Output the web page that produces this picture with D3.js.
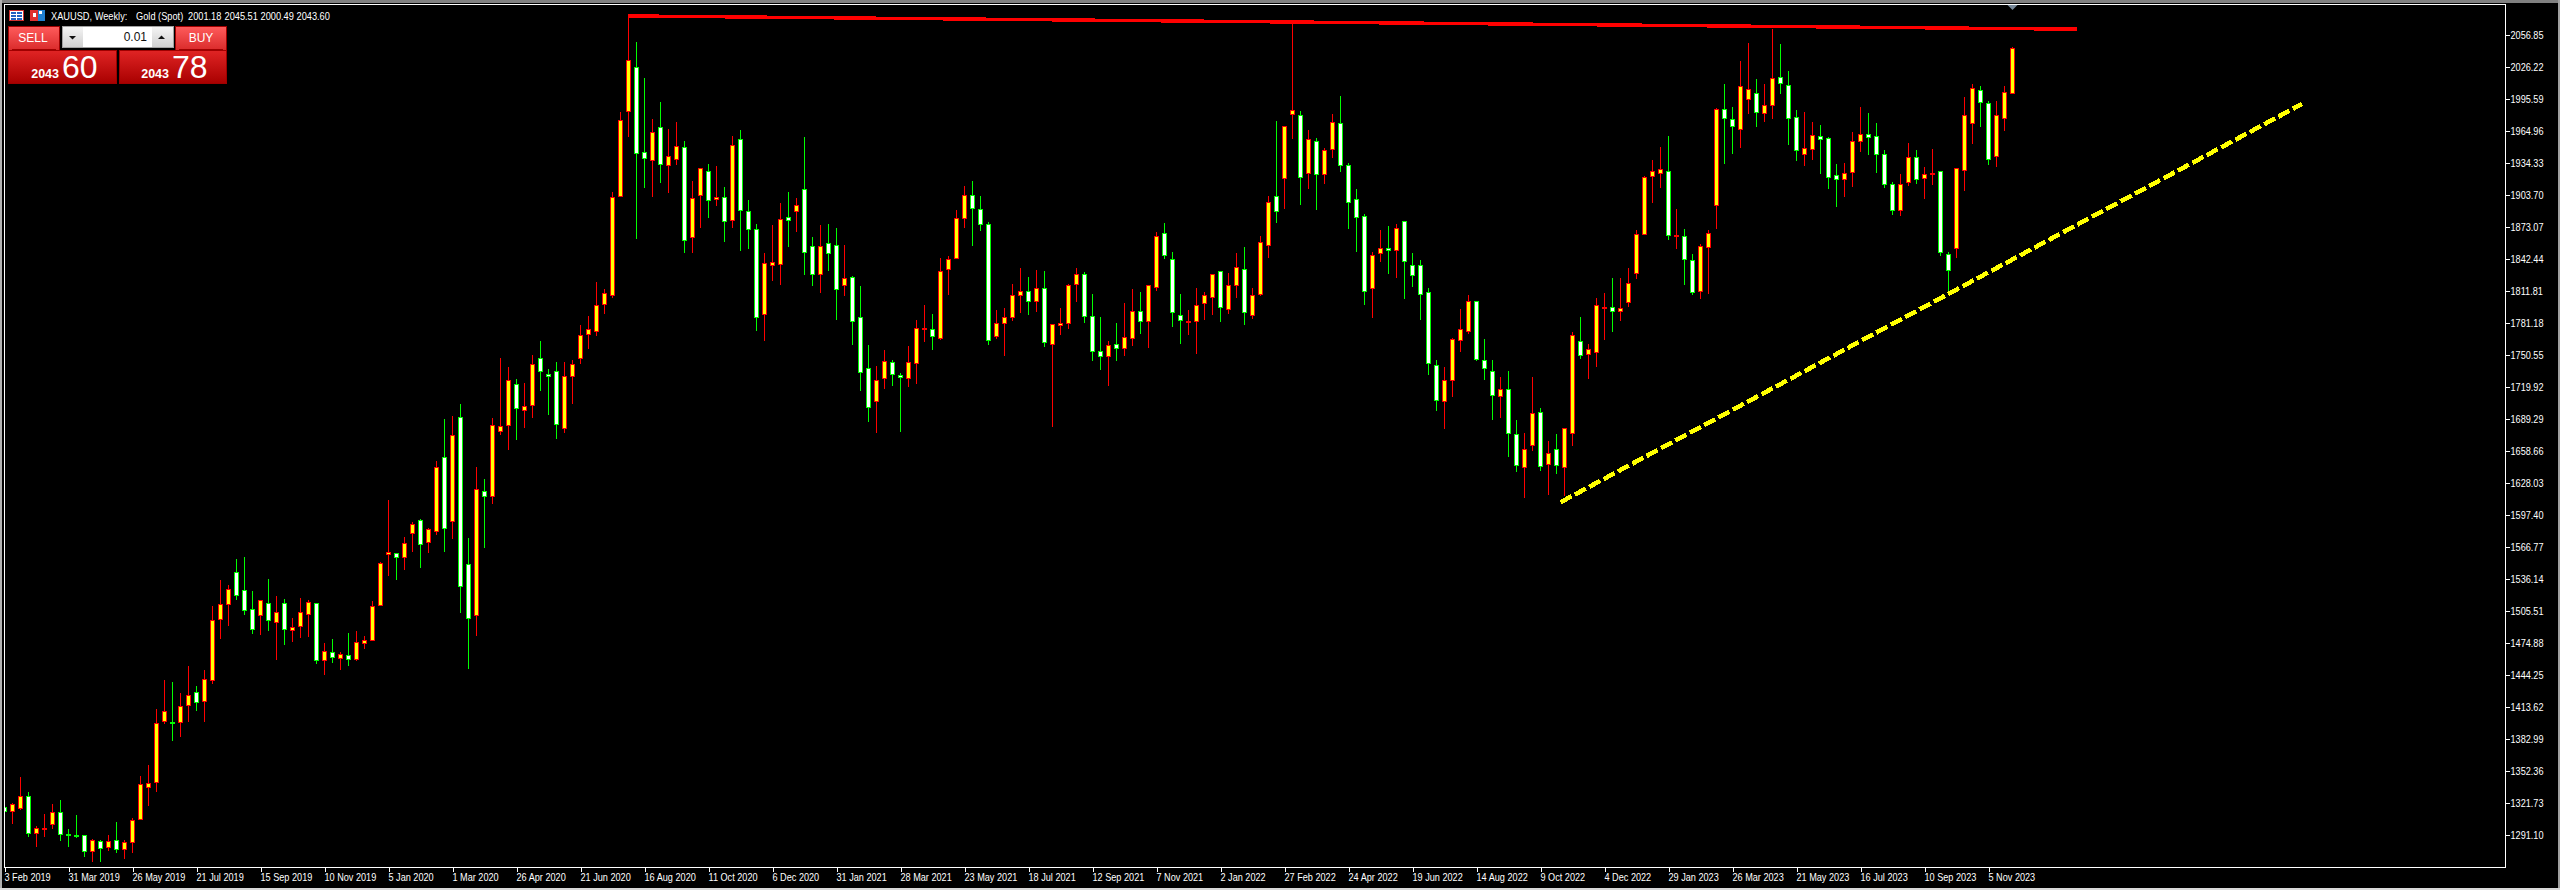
<!DOCTYPE html>
<html>
<head>
<meta charset="utf-8">
<title>XAUUSD Weekly</title>
<script src="https://cdn.jsdelivr.net/npm/d3@7"></script>
<style>
  html, body { margin: 0; padding: 0; background: #000; overflow: hidden; }
  svg { display: block; }
  text { font-family: "Liberation Sans", sans-serif; }
</style>
</head>
<body>
<div id="chart"></div>
<script>
// weekly bars, first one is 3 Feb 2019
const opens = [
  1317.3,1313.8,1316.4,1328.2,1292.8,1296.6,1301.1,1312.9,1291.8,1290.9,
  1290.9,1275.6,1285.1,1279.4,1286.1,1277.5,1283.8,1306.2,1336.8,1341.6,
  1400.0,1398.4,1399.0,1415.3,1427.7,1419.1,1439.2,1497.6,1511.9,1542.6,
  1525.3,1507.1,1501.4,1512.9,1494.7,1512.9,1487.1,1490.9,1502.4,1512.9,
  1458.3,1466.0,1460.3,1463.1,1459.3,1474.6,1477.5,1511.0,1559.8,1560.7,
  1556.9,1579.9,1592.3,1571.3,1581.8,1652.6,1591.4,1690.9,1550.2,1501.4,
  1620.1,1615.3,1677.5,1683.3,1722.5,1697.6,1702.4,1747.4,1732.1,1734.9,
  1680.4,1730.1,1747.4,1770.3,1773.2,1799.2,1807.8,1902.5,1983.9,2026.0,
  1944.6,1937.0,1968.5,1932.2,1937.9,1949.4,1863.3,1903.5,1926.4,1899.6,
  1901.6,1879.5,1957.1,1888.1,1870.9,1789.6,1836.5,1837.4,1882.4,1888.1,
  1909.2,1854.6,1827.9,1857.5,1855.6,1817.3,1825.0,1786.7,1737.9,1706.3,
  1728.3,1743.6,1731.2,1728.3,1742.7,1775.2,1775.2,1766.3,1832.6,1843.2,
  1881.4,1903.5,1890.1,1875.7,1768.5,1781.0,1786.7,1807.8,1811.6,1802.0,
  1814.4,1760.8,1779.0,1780.9,1818.2,1827.8,1787.6,1754.1,1749.3,1760.8,
  1757.0,1766.5,1792.4,1782.8,1815.4,1867.0,1842.2,1788.6,1781.9,1782.8,
  1800.1,1805.8,1830.7,1794.3,1817.3,1832.6,1788.6,1808.7,1855.6,1902.5,
  1919.7,1981.0,1980.0,1924.5,1955.1,1923.6,1947.5,1972.4,1932.2,1899.6,
  1883.4,1814.5,1847.9,1852.7,1850.8,1878.6,1836.5,1836.5,1810.6,1740.8,
  1706.3,1726.4,1764.7,1773.3,1802.0,1745.6,1735.0,1711.1,1717.8,1674.7,
  1643.2,1664.2,1695.8,1646.0,1660.4,1643.2,1675.7,1763.7,1751.3,1753.2,
  1795.3,1796.3,1792.5,1801.1,1828.8,1866.1,1921.6,1924.5,1926.4,1864.2,
  1864.2,1841.3,1811.6,1853.7,1893.9,1985.8,1976.2,1966.6,1995.3,2001.1,
  1981.9,1989.6,2016.4,2008.7,1978.1,1942.7,1947.5,1959.9,1958.0,1922.6,
  1918.8,1925.5,1955.1,1961.8,1959.9,1942.7,1914.0,1889.1,1915.9,1939.8,
  1919.7,1923.6,1926.4,1847.0,1852.7,1927.4,1972.4,2004.0,1991.5,1940.8,
  1977.2,2001.18
];
const closes = [
  1313.5,1320.5,1328.2,1292.8,1297.6,1297.6,1312.9,1291.5,1290.5,1289.6,
  1275.6,1286.1,1278.4,1285.1,1277.5,1284.2,1305.2,1339.7,1340.6,1398.0,
  1409.5,1397.7,1414.3,1424.8,1418.2,1440.2,1496.6,1511.9,1526.3,1520.5,
  1506.2,1488.0,1515.8,1496.6,1504.3,1488.0,1489.9,1504.3,1513.8,1458.3,
  1466.9,1461.2,1464.1,1459.3,1475.6,1477.5,1510.0,1551.2,1561.7,1556.9,
  1570.3,1588.5,1569.3,1583.7,1643.0,1584.4,1673.7,1529.2,1498.5,1622.0,
  1615.3,1683.3,1682.3,1726.3,1699.5,1701.4,1741.6,1734.9,1730.1,1684.2,
  1730.1,1741.6,1769.4,1775.1,1798.1,1809.7,1901.6,1975.2,2032.7,1943.7,
  1938.9,1963.8,1933.1,1940.8,1950.4,1860.4,1900.6,1929.3,1898.7,1901.6,
  1878.6,1951.3,1889.1,1870.9,1786.7,1838.4,1839.3,1880.5,1879.5,1893.9,
  1848.9,1827.9,1854.6,1847.9,1813.5,1824.0,1782.9,1734.1,1700.6,1726.4,
  1744.6,1732.2,1729.3,1743.6,1776.2,1776.2,1768.2,1830.7,1842.2,1881.4,
  1903.5,1891.0,1875.7,1764.7,1781.0,1786.7,1807.8,1811.6,1802.0,1814.5,
  1762.7,1779.9,1780.9,1817.3,1827.8,1787.6,1754.1,1749.3,1759.9,1757.0,
  1767.5,1792.4,1782.8,1817.3,1864.2,1846.0,1791.4,1783.8,1782.8,1798.1,
  1807.7,1827.8,1796.2,1817.3,1834.5,1791.5,1807.8,1858.5,1896.8,1888.1,
  1969.5,1984.8,1920.7,1957.1,1923.6,1946.5,1973.3,1932.2,1896.8,1882.4,
  1811.6,1846.0,1852.7,1850.8,1871.9,1840.3,1826.9,1808.7,1742.7,1707.3,
  1726.4,1765.7,1775.2,1802.0,1746.5,1737.9,1712.1,1717.8,1675.7,1645.1,
  1660.4,1694.8,1644.1,1656.6,1645.1,1680.5,1769.5,1750.3,1756.1,1798.2,
  1796.3,1792.5,1795.3,1819.2,1866.1,1920.7,1926.4,1928.3,1865.2,1865.2,
  1842.2,1810.6,1854.6,1867.1,1985.8,1977.2,1969.5,2007.8,2004.9,1982.9,
  1989.6,2015.4,2010.6,1977.2,1946.5,1948.4,1960.9,1957.1,1920.7,1918.8,
  1924.5,1955.1,1961.8,1959.0,1942.7,1914.0,1889.1,1914.0,1939.8,1918.8,
  1923.6,1924.5,1848.9,1831.7,1929.3,1980.0,2005.9,1992.5,1937.9,1980.0,
  2002.0,2043.60
];
const highs = [
  1317.3,1322.4,1346.7,1332.3,1300.4,1311.3,1320.9,1324.7,1296.9,1310.3,
  1291.8,1288.0,1287.0,1291.2,1303.6,1287.0,1307.5,1348.3,1358.2,1411.8,
  1439.5,1437.6,1427.1,1452.9,1433.8,1449.1,1510.3,1535.2,1530.4,1555.3,
  1557.2,1524.7,1516.7,1536.2,1519.9,1517.0,1498.9,1518.0,1516.1,1512.9,
  1474.9,1478.8,1466.3,1484.5,1486.4,1481.6,1515.1,1553.1,1611.8,1560.7,
  1576.4,1590.7,1593.6,1585.0,1649.1,1689.3,1692.2,1703.7,1575.4,1644.3,
  1631.9,1690.3,1747.7,1739.1,1727.6,1723.8,1751.5,1764.9,1738.1,1744.8,
  1744.8,1745.8,1779.3,1788.8,1820.5,1814.5,1906.7,1983.9,2075.1,2050.2,
  2015.8,1976.5,1992.8,1966.9,1973.6,1955.5,1917.2,1930.3,1933.5,1931.5,
  1911.4,1960.2,1966.0,1899.0,1876.0,1848.3,1875.1,1896.1,1906.7,1900.9,
  1959.3,1863.6,1875.1,1876.0,1872.2,1855.9,1826.9,1816.7,1760.2,1740.1,
  1755.4,1745.9,1733.4,1759.3,1784.2,1798.5,1789.9,1843.5,1846.0,1890.1,
  1913.0,1917.2,1903.5,1877.9,1794.4,1795.6,1818.6,1833.9,1825.3,1832.6,
  1831.9,1779.9,1795.6,1819.2,1833.9,1830.0,1809.0,1787.0,1764.0,1781.2,
  1800.4,1813.8,1810.9,1818.5,1868.3,1876.9,1849.2,1809.0,1793.7,1814.7,
  1810.9,1828.8,1831.6,1829.1,1848.2,1854.0,1814.8,1865.2,1902.8,1974.6,
  1970.5,2068.1,1984.2,1966.0,1958.3,1948.8,1981.3,1998.5,1934.4,1909.5,
  1885.6,1849.2,1870.3,1874.1,1876.0,1878.6,1848.3,1841.6,1814.8,1745.9,
  1739.2,1767.6,1794.7,1808.1,1802.0,1766.0,1745.9,1729.6,1735.3,1688.5,
  1676.0,1729.6,1699.9,1668.4,1675.1,1681.4,1772.7,1787.0,1761.2,1805.2,
  1810.0,1824.4,1824.4,1833.9,1870.3,1921.9,1937.3,1949.7,1960.2,1890.4,
  1871.2,1847.3,1856.9,1870.3,1987.7,2010.0,1988.0,2032.0,2049.2,2014.8,
  2010.0,2063.3,2048.3,2022.5,1985.1,1983.2,1973.6,1970.8,1959.3,1933.8,
  1935.0,1964.1,1988.0,1982.3,1972.7,1946.8,1916.2,1923.9,1953.6,1946.8,
  1930.6,1947.8,1927.4,1849.2,1930.3,1997.6,2010.0,2008.1,1993.7,1993.7,
  2008.1,2045.51
];
const lows = [
  1313.5,1302.0,1315.4,1289.6,1280.0,1289.6,1296.9,1285.8,1280.0,1288.6,
  1270.5,1265.7,1265.7,1276.2,1274.3,1268.5,1274.3,1306.2,1319.0,1332.7,
  1397.7,1381.5,1385.0,1399.6,1410.2,1399.6,1436.0,1478.8,1491.5,1516.4,
  1501.7,1483.9,1482.6,1486.7,1459.0,1473.3,1476.2,1480.0,1480.7,1455.2,
  1444.3,1456.1,1449.4,1453.2,1458.3,1469.5,1477.2,1511.0,1539.4,1535.5,
  1545.7,1562.3,1547.0,1561.1,1578.3,1562.3,1574.8,1504.0,1450.4,1482.0,
  1566.2,1608.3,1674.0,1660.0,1669.5,1681.0,1690.6,1716.4,1693.5,1670.2,
  1675.9,1704.0,1742.3,1756.6,1769.1,1790.2,1805.5,1902.5,1959.3,1862.0,
  1910.8,1902.2,1915.6,1906.0,1932.5,1848.6,1848.6,1872.5,1882.1,1893.6,
  1859.1,1872.5,1850.5,1852.4,1773.9,1764.4,1821.8,1818.0,1854.3,1868.7,
  1827.5,1817.0,1810.3,1831.4,1784.5,1807.4,1760.6,1716.5,1686.9,1676.3,
  1718.1,1721.3,1677.3,1720.4,1723.2,1763.4,1755.8,1765.7,1808.4,1843.2,
  1872.5,1855.3,1869.7,1760.6,1766.3,1750.0,1783.5,1791.2,1789.3,1792.1,
  1758.6,1682.0,1770.1,1775.8,1801.6,1781.5,1745.2,1736.6,1721.2,1745.2,
  1750.0,1759.5,1771.0,1757.6,1812.2,1842.8,1777.7,1761.4,1770.1,1751.9,
  1784.4,1789.2,1782.5,1790.2,1805.5,1779.7,1785.4,1807.8,1843.8,1877.3,
  1890.4,1957.4,1894.5,1909.5,1889.7,1914.6,1939.5,1926.1,1871.6,1849.5,
  1798.8,1786.4,1840.0,1828.5,1824.7,1804.6,1816.1,1784.5,1731.8,1697.4,
  1680.2,1710.8,1753.9,1771.4,1745.2,1727.1,1688.8,1690.7,1653.4,1639.0,
  1614.1,1659.1,1640.0,1617.0,1637.1,1616.0,1664.2,1747.5,1728.0,1739.5,
  1765.3,1773.0,1783.5,1796.9,1823.7,1865.8,1896.4,1910.8,1861.0,1852.4,
  1817.9,1808.7,1804.6,1809.7,1871.6,1933.8,1943.3,1949.1,1981.6,1969.2,
  1974.3,1976.8,2000.8,1951.9,1936.6,1931.9,1937.6,1924.2,1909.8,1892.6,
  1902.2,1911.8,1945.3,1942.4,1925.2,1910.8,1885.0,1884.0,1913.0,1914.6,
  1899.9,1913.3,1846.0,1811.6,1844.1,1907.9,1952.9,1969.2,1932.8,1930.9,
  1965.4,2000.49
];

const priceTicks = [2056.85,2026.22,1995.59,1964.96,1934.33,1903.70,1873.07,1842.44,1811.81,
  1781.18,1750.55,1719.92,1689.29,1658.66,1628.03,1597.40,1566.77,1536.14,1505.51,
  1474.88,1444.25,1413.62,1382.99,1352.36,1321.73,1291.10];
// one date label every 8 bars
const dateLabels = ["3 Feb 2019","31 Mar 2019","26 May 2019","21 Jul 2019","15 Sep 2019","10 Nov 2019",
  "5 Jan 2020","1 Mar 2020","26 Apr 2020","21 Jun 2020","16 Aug 2020","11 Oct 2020","6 Dec 2020",
  "31 Jan 2021","28 Mar 2021","23 May 2021","18 Jul 2021","12 Sep 2021","7 Nov 2021","2 Jan 2022",
  "27 Feb 2022","24 Apr 2022","19 Jun 2022","14 Aug 2022","9 Oct 2022","4 Dec 2022","29 Jan 2023",
  "26 Mar 2023","21 May 2023","16 Jul 2023","10 Sep 2023","5 Nov 2023"];

// hand drawn lines: bar number and price at both ends
const resistanceBars = [78, 259.1];
const resistancePrices = [2075.1, 2062.4];
const supportBars = [194.5, 287.2];
const supportPrices = [1609.6, 1990.9];

const width = 2560;
const height = 890;

const bars = opens.map((o, i) => ({ i, o, h: highs[i], l: lows[i], c: closes[i], up: closes[i] >= o }));

const x = d3.scaleLinear().domain([0, bars.length - 1]).range([4.5, 2012.5]);
const y = d3.scaleLinear().domain([1291.10, 2056.85]).range([835, 35]);
const snap = v => Math.floor(v) + 0.5;

// the terminal font is narrower than anything installed, so squeeze the glyphs
function narrow(sel, k) {
  sel.attr("lengthAdjust", "spacingAndGlyphs")
     .attr("textLength", function() { return this.getComputedTextLength() * k; });
}

const svg = d3.select("#chart").append("svg")
    .attr("width", width)
    .attr("height", height)
    .style("background", "#000");

const defs = svg.append("defs");
defs.append("clipPath").attr("id", "plot")
  .append("rect").attr("x", 5).attr("y", 5).attr("width", 2500).attr("height", 862);

function gradient(id, top, bottom) {
  const g = defs.append("linearGradient").attr("id", id).attr("x1", 0).attr("y1", 0).attr("x2", 0).attr("y2", 1);
  g.append("stop").attr("offset", "0%").attr("stop-color", top);
  g.append("stop").attr("offset", "100%").attr("stop-color", bottom);
}
gradient("btnTop", "#ff5c5c", "#d92a2a");
gradient("btnLow", "#e02424", "#a80000");
gradient("spin", "#f4f4f4", "#d0d0d0");

// window border
svg.append("rect").attr("width", width).attr("height", 3).attr("fill", "#808080");
svg.append("rect").attr("width", 2).attr("height", height).attr("fill", "#b0b0b0");
svg.append("rect").attr("x", width - 2).attr("width", 2).attr("height", height).attr("fill", "#a0a0a0");
svg.append("rect").attr("y", height - 2).attr("width", width).attr("height", 2).attr("fill", "#d8d8d8");

const plot = svg.append("g").attr("clip-path", "url(#plot)").attr("shape-rendering", "crispEdges");

const candle = plot.selectAll("g").data(bars).enter().append("g");

candle.append("line")
    .attr("x1", d => x(d.i))
    .attr("x2", d => x(d.i))
    .attr("y1", d => snap(y(d.h)))
    .attr("y2", d => snap(y(d.l)) + 0.5)
    .attr("stroke", d => d.up ? "#ff0000" : "#00ff00");

candle.append("rect")
    .attr("x", d => x(d.i) - 2)
    .attr("width", 4)
    .attr("y", d => snap(y(Math.max(d.o, d.c))))
    .attr("height", d => snap(y(Math.min(d.o, d.c))) - snap(y(Math.max(d.o, d.c))))
    .attr("fill", d => d.up ? "#ffff00" : "#ffffff")
    .attr("stroke", d => d.up ? "#ff0000" : "#00ff00");

plot.append("line")
    .attr("x1", x(resistanceBars[0]))
    .attr("x2", x(resistanceBars[1]))
    .attr("y1", y(resistancePrices[0]))
    .attr("y2", y(resistancePrices[1]))
    .attr("stroke", "#ff0000")
    .attr("stroke-width", 3.4);

plot.append("line")
    .attr("x1", x(supportBars[0]))
    .attr("x2", x(supportBars[1]))
    .attr("y1", y(supportPrices[0]))
    .attr("y2", y(supportPrices[1]))
    .attr("stroke", "#ffff00")
    .attr("stroke-width", 4.5)
    .attr("stroke-dasharray", "12.5,3.8");

// frame
svg.append("rect")
    .attr("x", 4.5).attr("y", 4.5).attr("width", 2501).attr("height", 863)
    .attr("fill", "none").attr("stroke", "#fff").attr("shape-rendering", "crispEdges");

// last bar marker under the top edge
svg.append("path")
    .attr("d", `M${x(bars.length - 1) - 5},5 h10 l-5,5 z`)
    .attr("fill", "#778899");

// axes
const yAxis = svg.append("g")
    .attr("transform", "translate(2505.5,0)")
    .call(d3.axisRight(y).tickValues(priceTicks).tickSize(4).tickPadding(1).tickFormat(d3.format(".2f")));

const xAxis = svg.append("g")
    .attr("transform", "translate(0,867.5)")
    .call(d3.axisBottom(x)
      .tickValues(dateLabels.map((d, i) => i * 8))
      .tickSize(4)
      .tickFormat((d, i) => dateLabels[i]));

svg.selectAll(".domain").remove();
svg.selectAll(".tick line").attr("stroke", "#fff").attr("shape-rendering", "crispEdges");
yAxis.attr("font-family", null);
xAxis.attr("font-family", null);
yAxis.selectAll("text")
    .attr("fill", "#fff").style("font-size", "11px")
    .call(narrow, 0.83);
xAxis.selectAll("text")
    .attr("fill", "#fff").style("font-size", "11px")
    .attr("text-anchor", "start").attr("x", -0.5).attr("y", 6)
    .call(narrow, 0.83);

// header line
[[51, "XAUUSD, Weekly:"], [136, "Gold (Spot)"], [188, "2001.18"], [224.5, "2045.51"], [260.5, "2000.49"], [296.5, "2043.60"]]
  .forEach(s => {
    svg.append("text").attr("x", s[0]).attr("y", 19.5).attr("fill", "#fff")
        .style("font-size", "11px").text(s[1]).call(narrow, 0.84);
  });

// header icons
const icons = svg.append("g").attr("shape-rendering", "crispEdges");
icons.append("rect").attr("x", 9.5).attr("y", 10.5).attr("width", 14).attr("height", 10).attr("fill", "#fff").attr("stroke", "#d03030");
[[11, 12], [11, 15], [11, 18], [17, 12], [17, 15], [17, 18]].forEach(p =>
  icons.append("rect").attr("x", p[0]).attr("y", p[1]).attr("width", 5).attr("height", 2).attr("fill", "#2060c0"));
icons.append("rect").attr("x", 30).attr("y", 10).attr("width", 8).attr("height", 11).attr("fill", "#e03030");
icons.append("rect").attr("x", 38).attr("y", 10).attr("width", 7).attr("height", 11).attr("fill", "#2080d0");
icons.append("rect").attr("x", 33).attr("y", 13).attr("width", 3).attr("height", 4).attr("fill", "#fff");
icons.append("rect").attr("x", 39).attr("y", 11).attr("width", 3).attr("height", 3).attr("fill", "#fff");

// one click trading panel
const panel = svg.append("g");
const box = (px, py, w, h, fill, stroke) => panel.append("rect")
    .attr("x", px).attr("y", py).attr("width", w).attr("height", h)
    .attr("fill", fill).attr("stroke", stroke || "none").attr("shape-rendering", "crispEdges");

box(8.5, 26.5, 51, 24, "url(#btnTop)", "#a00000");
box(175.5, 26.5, 51, 24, "url(#btnTop)", "#a00000");
box(8.5, 50.5, 108, 33, "url(#btnLow)", "#a00000");
box(119.5, 50.5, 107, 33, "url(#btnLow)", "#a00000");
box(12, 49, 44, 1, "#a00000");
box(179, 49, 44, 1, "#a00000");

box(62.5, 26.5, 111, 21, "#fff", "#a0a0a0");
box(63, 27, 20, 20, "url(#spin)");
box(152, 27, 21, 20, "url(#spin)");
panel.append("path").attr("d", "M69,36 h7 l-3.5,3.5 z").attr("fill", "#111");
panel.append("path").attr("d", "M158,39 h7 l-3.5,-3.5 z").attr("fill", "#111");

const label = (px, py, txt, size, anchor, weight, fill) => panel.append("text")
    .attr("x", px).attr("y", py).attr("text-anchor", anchor || "start")
    .attr("fill", fill || "#fff")
    .style("font-size", size + "px")
    .style("font-weight", weight || "normal")
    .text(txt);

label(33, 42, "SELL", 12, "middle");
label(201, 42, "BUY", 12, "middle");
label(147, 41, "0.01", 12, "end", null, "#111");
label(59, 78, "2043", 12.5, "end", "bold");
label(169, 78, "2043", 12.5, "end", "bold");
label(62, 78, "60", 32);
label(172, 78, "78", 32);
</script>
</body>
</html>
